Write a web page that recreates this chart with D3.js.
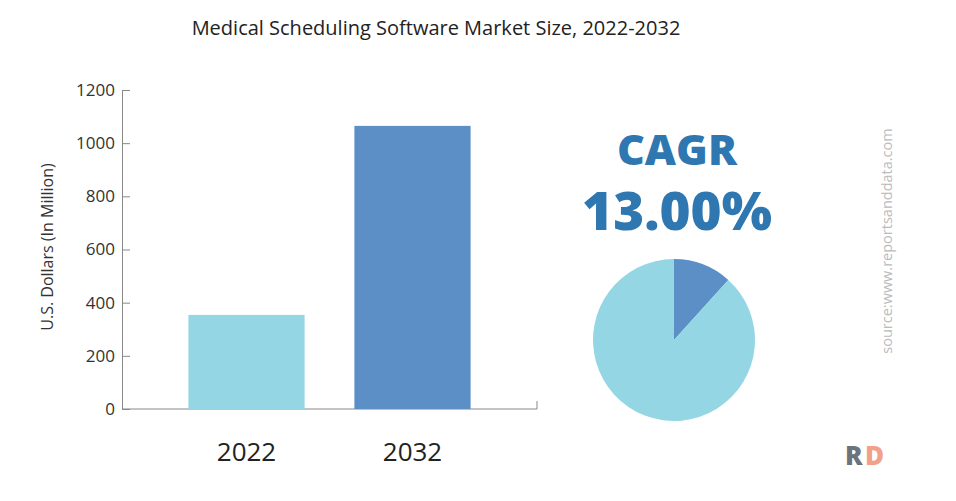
<!DOCTYPE html>
<html>
<head>
<meta charset="utf-8">
<script src="https://cdn.jsdelivr.net/npm/d3@7"></script>
<style>
  body { margin: 0; background: #fff; }
  svg { display: block; font-family: "Open Sans", sans-serif; }
</style>
</head>
<body>
<div id="chart"></div>
<script>
// chart data
const years = ["2022", "2032"];
const marketValues = [354, 1065];
const yTicks = [0, 200, 400, 600, 800, 1000, 1200];
const pieValues = [11.7, 88.3];
const cagrLabel = "13.00%";

const width = 956, height = 501;
const margin = {top: 90, left: 122, bottom: 92, right: 419};
const barColors = ["#95d6e4", "#5b8fc6"];

const svg = d3.select("#chart").append("svg").attr("width", width).attr("height", height);

// title
svg.append("text").attr("x", 436).attr("y", 35).attr("text-anchor", "middle")
    .attr("font-size", 20).attr("fill", "#222").text("Medical Scheduling Software Market Size, 2022-2032");

// scales
const xScale = d3.scaleBand().domain(years).range([margin.left, width - margin.right]).paddingInner(0.3).paddingOuter(0.4);
const yScale = d3.scaleLinear().domain([0, 1200]).range([height - margin.bottom, margin.top]);

// y axis (ticks pointing inward)
const yAxis = svg.append("g").attr("transform", `translate(${margin.left},0)`)
    .call(d3.axisLeft(yScale).tickValues(yTicks).tickFormat(d3.format("d")).tickSize(-8).tickPadding(7));
yAxis.select(".domain").attr("stroke", "#888");
yAxis.selectAll(".tick line").attr("stroke", "#888");
yAxis.selectAll("text").attr("font-size", 17).attr("fill", "#333").attr("font-family", "Open Sans, sans-serif");

// x axis line with end tick
const x0 = margin.left, x1 = width - margin.right, yBase = yScale(0);
svg.append("path").attr("d", `M${x0},${yBase}H${x1}V${yBase - 8}`).attr("fill", "none").attr("stroke", "#888");

// bars
svg.selectAll("rect.bar").data(marketValues).enter().append("rect").attr("class", "bar")
    .attr("x", (d, i) => xScale(years[i]))
    .attr("y", d => yScale(d))
    .attr("width", xScale.bandwidth())
    .attr("height", d => yBase - yScale(d))
    .attr("fill", (d, i) => barColors[i]);

// x labels
svg.selectAll("text.xlab").data(years).enter().append("text").attr("class", "xlab")
    .attr("x", d => xScale(d) + xScale.bandwidth() / 2).attr("y", 461)
    .attr("text-anchor", "middle").attr("font-size", 26).attr("fill", "#222").text(d => d);

// y title
svg.append("text").attr("transform", "translate(53,247) rotate(-90)").attr("text-anchor", "middle")
    .attr("font-size", 16).attr("fill", "#333").text("U.S. Dollars (In Million)");

// CAGR text
svg.append("text").attr("x", 677).attr("y", 165).attr("text-anchor", "middle")
    .attr("font-size", 43).attr("font-weight", 800).attr("fill", "#2f77b1").text("CAGR");
svg.append("text").attr("x", 677).attr("y", 230).attr("text-anchor", "middle")
    .attr("font-size", 53).attr("font-weight", 800).attr("fill", "#2f77b1").text(cagrLabel);

// pie
const pie = d3.pie().sort(null)(pieValues);
const arc = d3.arc().innerRadius(0).outerRadius(81);
svg.append("g").attr("transform", "translate(674,340)")
    .selectAll("path").data(pie).enter().append("path")
    .attr("d", arc).attr("fill", (d, i) => i === 0 ? "#5b8fc6" : "#95d6e4");

// source
svg.append("text").attr("transform", "translate(892,241) rotate(-90)").attr("text-anchor", "middle")
    .attr("font-size", 14.5).attr("fill", "#bbb").text("source:www.reportsanddata.com");

// logo
svg.append("text").attr("x", 845).attr("y", 465).attr("font-size", 26).attr("font-weight", 800)
    .attr("fill", "#6d737c").text("R");
svg.append("text").attr("x", 865).attr("y", 465).attr("font-size", 26).attr("font-weight", 800)
    .attr("fill", "#f2a089").text("D");
</script>
</body>
</html>
